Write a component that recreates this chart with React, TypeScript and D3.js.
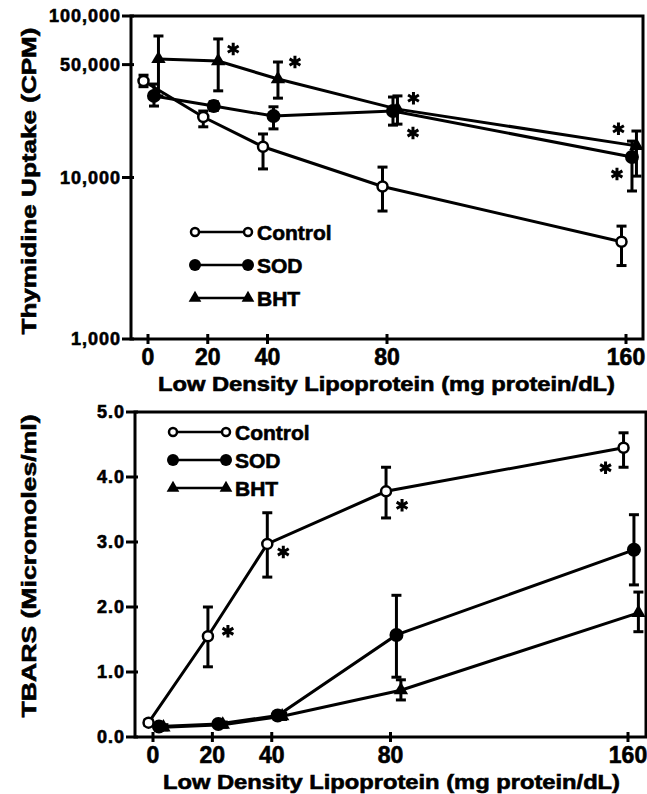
import React, { useEffect, useRef } from "react";
import * as d3 from "d3";

// LDL dose (mg protein/dL)
const doses = [0, 20, 40, 80, 160];
const xTicks = [0, 20, 40, 80, 160];
const seriesNames = ["Control", "SOD", "BHT"];
// the three groups are drawn side by side around each dose
const doseShift = [-1.5, 2, 3.5];

// thymidine uptake (CPM), mean and error bar ends
const uptakeControl = [39600, 23700, 15500, 8800, 4000];
const uptakeControlLo = [36500, 20600, 11300, 6200, 2850];
const uptakeControlHi = [43000, 25800, 18600, 11600, 5000];
const uptakeSOD = [32000, 27700, 24000, 25800, 13400];
const uptakeSODLo = [27700, 26000, 20000, 21100, 8250];
const uptakeSODHi = [37900, 29500, 27400, 31500, 16800];
const uptakeBHT = [54200, 52600, 40700, 26500, 15700];
const uptakeBHTLo = [32000, 34400, 31000, 21400, 10200];
const uptakeBHTHi = [75200, 72100, 51900, 32000, 19400];
const uptakeTicks = [1000, 10000, 50000, 100000];

// TBARS (micromoles/ml)
const tbarsControl = [0.22, 1.55, 2.97, 3.78, 4.45];
const tbarsControlLo = [0.18, 1.08, 2.46, 3.37, 4.15];
const tbarsControlHi = [0.26, 2.0, 3.45, 4.15, 4.68];
const tbarsSOD = [0.16, 0.2, 0.33, 1.57, 2.88];
const tbarsSODLo = [0.12, 0.16, 0.28, 0.92, 2.34];
const tbarsSODHi = [0.2, 0.24, 0.38, 2.18, 3.42];
const tbarsBHT = [0.15, 0.19, 0.32, 0.72, 1.91];
const tbarsBHTLo = [0.11, 0.15, 0.27, 0.57, 1.62];
const tbarsBHTHi = [0.19, 0.23, 0.37, 0.88, 2.23];
const tbarsTicks = [0, 1, 2, 3, 4, 5];

// significance marks: [series, dose index]
const uptakeStars = [[2, 1], [2, 2], [2, 3], [1, 3], [2, 4], [1, 4]];
const tbarsStars = [[0, 1], [0, 2], [0, 3], [0, 4]];

const FONT = "'Liberation Sans', Arial, sans-serif";

// bold text, a bit heavier like the printed figure
const label = (sel, size) =>
  sel.attr("font-family", FONT).attr("font-weight", "bold").attr("font-size", size)
    .attr("stroke", "#000").attr("stroke-width", 0.6).attr("fill", "#000");

const drawPanel = (svg, cfg) => {
  const { frame, xRange, y, yTicks, yFmt, series, legend, stars, starOff, yTitle } = cfg;
  const x = d3.scaleLinear().domain([0, 160]).range(xRange);
  const g = svg.append("g");

  // frame
  g.append("rect")
    .attr("x", frame.l).attr("y", frame.t)
    .attr("width", frame.r - frame.l).attr("height", frame.b - frame.t)
    .attr("fill", "none").attr("stroke", "#000").attr("stroke-width", 3);

  // y ticks
  yTicks.forEach((t) => {
    g.append("line").attr("x1", frame.l - 9).attr("x2", frame.l + 3)
      .attr("y1", y(t)).attr("y2", y(t)).attr("stroke", "#000").attr("stroke-width", 3);
    label(g.append("text"), cfg.yTickSize).attr("x", frame.l - 10).attr("y", y(t)).attr("dy", "0.36em")
      .attr("text-anchor", "end").attr("letter-spacing", 1).text(yFmt(t));
  });

  // x ticks
  xTicks.forEach((t) => {
    g.append("line").attr("x1", x(t)).attr("x2", x(t))
      .attr("y1", frame.b - 5).attr("y2", frame.b + 5).attr("stroke", "#000").attr("stroke-width", 3);
    label(g.append("text"), 23).attr("x", x(t)).attr("y", frame.b + 26)
      .attr("text-anchor", "middle").text(t);
  });

  label(g.append("text"), 20).attr("x", cfg.xTitleX).attr("y", frame.b + 52)
    .attr("textLength", 457).attr("lengthAdjust", "spacingAndGlyphs")
    .text("Low Density Lipoprotein (mg protein/dL)");

  label(g.append("text"), 21)
    .attr("transform", `translate(${yTitle.x},${yTitle.y}) rotate(-90)`)
    .attr("text-anchor", "middle").attr("textLength", yTitle.len).attr("lengthAdjust", "spacingAndGlyphs")
    .text(yTitle.text);

  const line = d3.line().x((d) => d[0]).y((d) => d[1]);

  series.forEach((s, si) => {
    const pts = doses.map((d, i) => ({
      px: x(d + doseShift[si]), py: y(s.mean[i]), lo: y(s.lo[i]), hi: y(s.hi[i]),
    }));
    g.append("path").attr("d", line(pts.map((p) => [p.px, p.py])))
      .attr("fill", "none").attr("stroke", "#000").attr("stroke-width", 3);
    pts.forEach((p) => {
      g.append("line").attr("x1", p.px).attr("x2", p.px).attr("y1", p.hi).attr("y2", p.lo)
        .attr("stroke", "#000").attr("stroke-width", 3);
      [p.hi, p.lo].forEach((e) => {
        g.append("line").attr("x1", p.px - 5).attr("x2", p.px + 5).attr("y1", e).attr("y2", e)
          .attr("stroke", "#000").attr("stroke-width", 3);
      });
    });
  });

  const marker = (si, cx, cy, small) => {
    if (si === 0) {
      g.append("circle").attr("cx", cx).attr("cy", cy).attr("r", small ? 4 : 5)
        .attr("fill", "#fff").attr("stroke", "#000").attr("stroke-width", 2.5);
    } else if (si === 1) {
      g.append("circle").attr("cx", cx).attr("cy", cy).attr("r", small ? 6 : 7).attr("fill", "#000");
    } else {
      g.append("path").attr("d", d3.symbol(d3.symbolTriangle, small ? 70 : 90)())
        .attr("transform", `translate(${cx},${cy})`).attr("fill", "#000");
    }
  };

  series.forEach((s, si) => {
    doses.forEach((d, i) => marker(si, x(d + doseShift[si]), y(s.mean[i]), false));
  });

  // legend
  seriesNames.forEach((name, si) => {
    const ly = legend.y + si * legend.step;
    g.append("line").attr("x1", legend.x).attr("x2", legend.x + 53).attr("y1", ly).attr("y2", ly)
      .attr("stroke", "#000").attr("stroke-width", 2.5);
    marker(si, legend.x, ly, true);
    marker(si, legend.x + 53, ly, true);
    label(g.append("text"), 21).attr("x", legend.x + 62).attr("y", ly + 8).text(name);
  });

  // asterisks
  const star = d3.symbol(d3.symbolAsterisk, 110)();
  stars.forEach(([si, i], k) => {
    const [dx, dy] = starOff[k];
    g.append("path").attr("d", star)
      .attr("transform", `translate(${x(doses[i] + doseShift[si]) + dx},${y(series[si].mean[i]) + dy})`)
      .attr("fill", "none").attr("stroke", "#000").attr("stroke-width", 3);
  });
};

const App = () => {
  const ref = useRef(null);

  useEffect(() => {
    const svg = d3.select(ref.current);
    svg.selectAll("*").remove();

    drawPanel(svg, {
      frame: { l: 131, r: 643, t: 16, b: 339 },
      xRange: [148, 626],
      y: d3.scaleLog().domain([1000, 100000]).range([339, 16]),
      yTicks: uptakeTicks,
      yFmt: d3.format(","),
      yTickSize: 18,
      series: [
        { mean: uptakeControl, lo: uptakeControlLo, hi: uptakeControlHi },
        { mean: uptakeSOD, lo: uptakeSODLo, hi: uptakeSODHi },
        { mean: uptakeBHT, lo: uptakeBHTLo, hi: uptakeBHTHi },
      ],
      legend: { x: 195, y: 232, step: 33 },
      stars: uptakeStars,
      starOff: [[15, -12], [17, -17], [16, -11], [20, 22], [-18, -17], [-15, 17]],
      xTitleX: 158,
      yTitle: { x: 36, y: 181, len: 307, text: "Thymidine Uptake (CPM)" },
    });

    drawPanel(svg, {
      frame: { l: 135, r: 646, t: 412, b: 737 },
      xRange: [153, 628],
      y: d3.scaleLinear().domain([0, 5]).range([737, 412]),
      yTicks: tbarsTicks,
      yFmt: d3.format(".1f"),
      yTickSize: 18,
      series: [
        { mean: tbarsControl, lo: tbarsControlLo, hi: tbarsControlHi },
        { mean: tbarsSOD, lo: tbarsSODLo, hi: tbarsSODHi },
        { mean: tbarsBHT, lo: tbarsBHTLo, hi: tbarsBHTHi },
      ],
      legend: { x: 173, y: 432, step: 28 },
      stars: tbarsStars,
      starOff: [[20, -5], [16, 8], [16, 14], [-18, 20]],
      xTitleX: 163,
      yTitle: { x: 36, y: 566, len: 303, text: "TBARS (Micromoles/ml)" },
    });
  }, []);

  return (
    <div style={{ position: "absolute", left: 0, top: 0 }}>
      <svg ref={ref} width={647} height={794} style={{ display: "block", background: "#fff" }} />
    </div>
  );
};

export default App;
